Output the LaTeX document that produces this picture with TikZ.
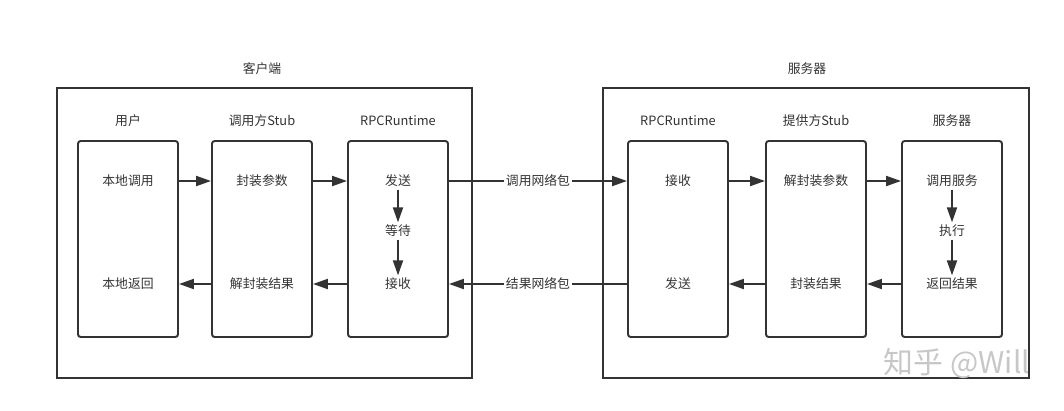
\documentclass[tikz,border=0pt]{standalone}
\usepackage{fontspec}
\setmainfont{Noto Sans CJK SC}
\usetikzlibrary{arrows.meta}
\definecolor{linegray}{HTML}{333333}
\begin{document}
\begin{tikzpicture}[x=0.02cm, y=-0.02cm, >={Triangle[length=0.3cm, width=0.2cm]}, line width=1.1pt, draw=linegray, text=linegray, font=\fontsize{7.3}{9}\selectfont]
\useasboundingbox (0,0) rectangle (1064,410);
\node[draw, rectangle, minimum width=8.3cm, minimum height=5.8cm] (client) at (264.5,233) {};
\node[draw, rectangle, minimum width=8.52cm, minimum height=5.8cm] (server) at (816,233) {};
\node (clientlabel) at (262,69) {客户端};
\node (serverlabel) at (807,69) {服务器};
\node[draw, rectangle, rounded corners=1.5pt, minimum width=2cm, minimum height=3.92cm] (user) at (128,239) {};
\node[draw, rectangle, rounded corners=1.5pt, minimum width=2cm, minimum height=3.92cm] (cstub) at (262,239) {};
\node[draw, rectangle, rounded corners=1.5pt, minimum width=2cm, minimum height=3.92cm] (crpc) at (398,239) {};
\node[draw, rectangle, rounded corners=1.5pt, minimum width=2cm, minimum height=3.92cm] (srpc) at (678,239) {};
\node[draw, rectangle, rounded corners=1.5pt, minimum width=2cm, minimum height=3.92cm] (sstub) at (816,239) {};
\node[draw, rectangle, rounded corners=1.5pt, minimum width=2cm, minimum height=3.92cm] (service) at (952,239) {};
\node (usertitle) at (128,121) {用户};
\node (cstubtitle) at (262,121) {调用方Stub};
\node (crpctitle) at (398,121) {RPCRuntime};
\node (srpctitle) at (678,121) {RPCRuntime};
\node (sstubtitle) at (816,121) {提供方Stub};
\node (servicetitle) at (952,121) {服务器};
\node[inner sep=1pt] (localcall) at (128,181) {本地调用};
\node[inner sep=1pt] (localret) at (128,284) {本地返回};
\node[inner sep=1pt] (pack) at (262,181) {封装参数};
\node[inner sep=1pt] (unpackres) at (262,284) {解封装结果};
\node[inner sep=1pt] (csend) at (398,181) {发送};
\node[inner sep=1pt] (cwait) at (398,231) {等待};
\node[inner sep=1pt] (crecv) at (398,284) {接收};
\node[inner sep=1pt] (srecv) at (678,181) {接收};
\node[inner sep=1pt] (ssend) at (678,284) {发送};
\node[inner sep=1pt] (unpack) at (816,181) {解封装参数};
\node[inner sep=1pt] (packres) at (816,284) {封装结果};
\node[inner sep=1pt] (invoke) at (952,181) {调用服务};
\node[inner sep=1pt] (exec) at (952,231) {执行};
\node[inner sep=1pt] (ret) at (952,284) {返回结果};
\draw[->] (user.east |- localcall) -- (cstub.west |- localcall);
\draw[->] (cstub.east |- pack) -- (crpc.west |- pack);
\draw[->] (csend) -- (cwait);
\draw[->] (cwait) -- (crecv);
\draw[->] (crpc.west |- crecv) -- (cstub.east |- crecv);
\draw[->] (cstub.west |- localret) -- (user.east |- localret);
\draw[->] (crpc.east |- csend) -- node[fill=white, inner sep=1pt] {调用网络包} (srpc.west |- csend);
\draw[->] (srpc.west |- ssend) -- node[fill=white, inner sep=1pt] {结果网络包} (crpc.east |- ssend);
\draw[->] (srpc.east |- srecv) -- (sstub.west |- srecv);
\draw[->] (sstub.east |- unpack) -- (service.west |- unpack);
\draw[->] (invoke) -- (exec);
\draw[->] (exec) -- (ret);
\draw[->] (service.west |- ret) -- (sstub.east |- ret);
\draw[->] (sstub.west |- packres) -- (srpc.east |- packres);
\node[text=black!22, font=\fontsize{17}{20}\selectfont] (watermark) at (957,364) {知乎 @Will};
\end{tikzpicture}
\end{document}
